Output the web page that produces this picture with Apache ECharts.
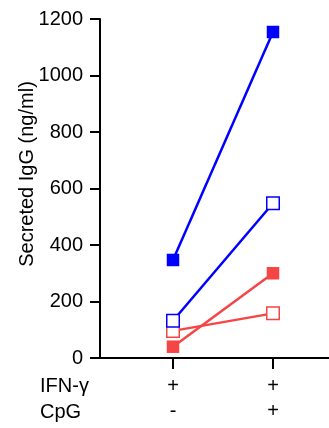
<!DOCTYPE html>
<html><head><meta charset="utf-8">
<script src="https://cdn.jsdelivr.net/npm/echarts@6/dist/echarts.min.js"></script>
<style>html,body{margin:0;padding:0;background:#fff}#c{width:329px;height:428px}</style>
</head><body><div id="c"></div>
<script>
const categories = [1, 2];
const ifnLabels = ['+', '+'];
const cpgLabels = ['-', '+'];
const rowLabels = ['IFN-\u03b3', 'CpG'];
const yTicks = [0, 200, 400, 600, 800, 1000, 1200];
const blueFilled = [347, 1154];
const blueOpen = [132, 548];
const redFilled = [40, 300];
const redOpen = [96, 158];
const yTitle = 'Secreted IgG (ng/ml)';

const BLUE = '#0000FF', RED = '#F54545';
const FONT = 'Liberation Sans, Arial, sans-serif';
function mk(vals, color, filled) {
  return {
    type: 'line', data: categories.map((c, i) => [c, vals[i]]),
    symbol: 'rect', symbolSize: 12.5,
    lineStyle: { color: color, width: 2.5 },
    itemStyle: { color: filled ? color : '#fff', borderColor: color, borderWidth: filled ? 0 : 1.5 },
    emphasis: { disabled: true }, animation: false, z: filled ? 3 : 2
  };
}
const chart = echarts.init(document.getElementById('c'));
chart.setOption({
  animation: false,
  grid: { left: 100, right: 0, top: 19, bottom: 70, containLabel: false },
  xAxis: {
    type: 'value', min: 0.27, max: 2.56,
    splitLine: { show: false },
    axisLine: { show: true, lineStyle: { color: '#000', width: 2 } },
    axisTick: { show: true, customValues: categories, length: 11, lineStyle: { color: '#000', width: 2 } },
    axisLabel: {
      customValues: categories, margin: 16, color: '#000', fontFamily: FONT, fontSize: 20, lineHeight: 25,
      formatter: v => { const i = categories.indexOf(v); return ifnLabels[i] + '\n' + cpgLabels[i]; }
    }
  },
  yAxis: {
    type: 'value', min: 0, max: 1200, interval: 200,
    splitLine: { show: false },
    axisLine: { show: true, lineStyle: { color: '#000', width: 2 } },
    axisTick: { show: true, length: 10, lineStyle: { color: '#000', width: 2 } },
    axisLabel: { margin: 17, color: '#000', fontFamily: FONT, fontSize: 20,
      formatter: v => yTicks.includes(v) ? String(v) : '' }
  },
  graphic: [
    { type: 'text', x: 27, y: 174, rotation: Math.PI / 2,
      style: { text: yTitle, fill: '#000', font: '20px ' + FONT, align: 'center', verticalAlign: 'middle' } },
    { type: 'text', x: 40, y: 386, style: { text: rowLabels[0], fill: '#000', font: '20px ' + FONT, align: 'left', verticalAlign: 'middle' } },
    { type: 'text', x: 40, y: 412, style: { text: rowLabels[1], fill: '#000', font: '20px ' + FONT, align: 'left', verticalAlign: 'middle' } }
  ],
  series: [mk(redOpen, RED, false), mk(redFilled, RED, true), mk(blueOpen, BLUE, false), mk(blueFilled, BLUE, true)]
});
</script></body></html>
